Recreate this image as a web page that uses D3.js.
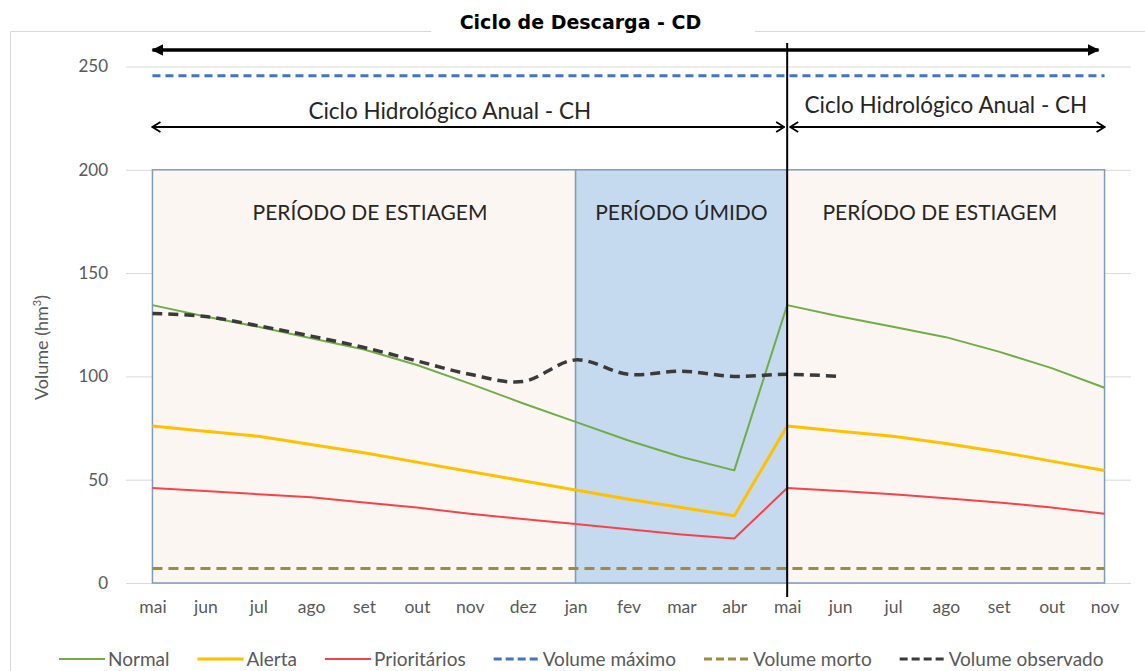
<!DOCTYPE html>
<html>
<head>
<meta charset="utf-8">
<script src="https://cdn.jsdelivr.net/npm/d3@7"></script>
<style>
    body { margin: 0; background: #fff; }
    svg text { font-family: Lato, "Open Sans", sans-serif; }
</style>
</head>
<body>
<div id="graph"></div>
<script>
/*
    Data
*/
var months = ["mai", "jun", "jul", "ago", "set", "out", "nov", "dez", "jan", "fev",
              "mar", "abr", "mai", "jun", "jul", "ago", "set", "out", "nov"]
var yTicks = [0, 50, 100, 150, 200, 250]

var normal       = [134.5, 129, 124, 118.5, 113, 105.5, 96.5, 87, 78, 69, 61, 54.5,
                    134.5, 129, 124, 119, 112, 104, 94.5]
var alerta       = [76, 73.5, 71, 67, 63, 58.5, 54, 49.5, 45, 40.5, 36.5, 32.5,
                    76, 73.5, 71, 67.5, 63.5, 59, 54.5]
var prioritarios = [46, 44.5, 43, 41.5, 39, 36.5, 33.5, 31, 28.5, 26, 23.5, 21.5,
                    46, 44.5, 43, 41, 39, 36.5, 33.5]
var volumeMaximo = [245.5, 245.5, 245.5, 245.5, 245.5, 245.5, 245.5, 245.5, 245.5, 245.5,
                    245.5, 245.5, 245.5, 245.5, 245.5, 245.5, 245.5, 245.5, 245.5]
var volumeMorto  = [7, 7, 7, 7, 7, 7, 7, 7, 7, 7, 7, 7, 7, 7, 7, 7, 7, 7, 7]
var volumeObservado = [130.5, 129, 124.5, 119.5, 114, 107.5, 101, 97.5, 108, 101,
                       102.5, 100, 101, 100]

// periods (index of month where they start / end)
var periodNames = ["PERÍODO DE ESTIAGEM", "PERÍODO ÚMIDO", "PERÍODO DE ESTIAGEM"]
var periodStart = [0, 8, 12]
var periodEnd   = [8, 12, 18]
var periodTop   = 200

var cdLabel = "Ciclo de Descarga - CD"
var chLabel = "Ciclo Hidrológico Anual - CH"
var chStart = [0, 12]
var chEnd   = [12, 18]

var series = [
    { name: "Normal",           values: normal,          color: "#70ad47", width: 2,   dash: null,   smooth: false },
    { name: "Alerta",           values: alerta,          color: "#ffc000", width: 3,   dash: null,   smooth: false },
    { name: "Prioritários",     values: prioritarios,    color: "#f8424a", width: 2,   dash: null,   smooth: false },
    { name: "Volume máximo",    values: volumeMaximo,    color: "#4472c4", width: 3,   dash: "8,5",  smooth: false },
    { name: "Volume morto",     values: volumeMorto,     color: "#a08a40", width: 3,   dash: "10,6", smooth: false },
    { name: "Volume observado", values: volumeObservado, color: "#3a3a3a", width: 3.5, dash: "10,6", smooth: true }
]

/*
    Size of the picture
*/
var W = 1145, H = 671
var plot = { left: 126, right: 1131, top: 66.5, bottom: 583 }

var svg = d3.select("#graph").append("svg")
    .attr("width", W)
    .attr("height", H)

var defs = svg.append("defs")
defs.append("marker")
    .attr("id", "head-solid")
    .attr("viewBox", "0 0 12 12")
    .attr("refX", 11).attr("refY", 6)
    .attr("markerWidth", 12).attr("markerHeight", 12)
    .attr("markerUnits", "userSpaceOnUse")
    .attr("orient", "auto-start-reverse")
    .append("path")
    .attr("d", "M0,0 L12,6 L0,12 Z")
    .attr("fill", "#000")
defs.append("marker")
    .attr("id", "head-open")
    .attr("viewBox", "0 0 10 12")
    .attr("refX", 9).attr("refY", 6)
    .attr("markerWidth", 10).attr("markerHeight", 12)
    .attr("markerUnits", "userSpaceOnUse")
    .attr("orient", "auto-start-reverse")
    .append("path")
    .attr("d", "M1,1 L9,6 L1,11")
    .attr("fill", "none")
    .attr("stroke", "#000")
    .attr("stroke-width", 1.8)

// chart border
svg.append("path")
    .attr("d", "M10.5," + H + " L10.5,31.5 L" + W + ",31.5")
    .attr("fill", "none")
    .attr("stroke", "#d9d9d9")

// Scales
var x = d3.scalePoint()
    .domain(d3.range(months.length))
    .range([plot.left, plot.right])
    .padding(0.5)
var y = d3.scaleLinear()
    .domain([0, 250])
    .range([plot.bottom, plot.top])

// grid + y axis
var yAxis = svg.append("g")
    .attr("transform", "translate(" + plot.left + ",0)")
    .call(d3.axisLeft(y).tickValues(yTicks).tickSize(-(plot.right - plot.left)).tickPadding(18))
yAxis.select(".domain").remove()
yAxis.selectAll("line").attr("stroke", "#d9d9d9")
yAxis.selectAll("text")
    .attr("fill", "#595959")
    .style("font-size", "17px")

// x axis
var xAxis = svg.append("g")
    .attr("transform", "translate(0," + plot.bottom + ")")
    .call(d3.axisBottom(x).tickFormat(function (i) { return months[i] }).tickSize(0).tickPadding(18))
xAxis.select(".domain").remove()
xAxis.selectAll("text")
    .attr("fill", "#595959")
    .style("font-size", "17.5px")

// y title
svg.append("text")
    .attr("transform", "translate(48," + y(114) + ") rotate(-90)")
    .attr("text-anchor", "middle")
    .attr("fill", "#595959")
    .style("font-size", "18px")
    .html("Volume (hm<tspan dy='-7' style='font-size:11px'>3</tspan><tspan dy='7'>)</tspan>")

/*
    Periods
*/
svg.selectAll("rect.period")
    .data(periodNames)
    .enter().append("rect")
    .attr("class", "period")
    .attr("x", function (d, i) { return x(periodStart[i]) })
    .attr("y", y(periodTop))
    .attr("width", function (d, i) { return x(periodEnd[i]) - x(periodStart[i]) })
    .attr("height", y(0) - y(periodTop))
    .attr("fill", function (d, i) { return i == 1 ? "#c5daee" : "#fbf6f2" })
    .attr("stroke", "#7f9cbc")
    .attr("stroke-width", 1.5)

svg.selectAll("text.period")
    .data(periodNames)
    .enter().append("text")
    .attr("class", "period")
    .attr("x", function (d, i) { return (x(periodStart[i]) + x(periodEnd[i])) / 2 + (i == 0 ? 6 : (i == 2 ? -6 : 0)) })
    .attr("y", 220)
    .attr("text-anchor", "middle")
    .attr("fill", "#262626")
    .style("font-size", "21px")
    .text(function (d) { return d })

/*
    Lines
*/
series.forEach(function (s) {
    var line = d3.line()
        .x(function (d, i) { return x(i) })
        .y(function (d) { return y(d) })
        .curve(s.smooth ? d3.curveCatmullRom.alpha(0.5) : d3.curveLinear)
    svg.append("path")
        .attr("d", line(s.values))
        .attr("fill", "none")
        .attr("stroke", s.color)
        .attr("stroke-width", s.width)
        .attr("stroke-dasharray", s.dash)
        .attr("stroke-linejoin", "round")
})

/*
    Cycle arrows and separator
*/
svg.append("line")
    .attr("x1", x(12)).attr("x2", x(12))
    .attr("y1", 43).attr("y2", 597)
    .attr("stroke", "#000")
    .attr("stroke-width", 2)

svg.append("line")
    .attr("x1", x(0)).attr("x2", x(18) - 6)
    .attr("y1", 50).attr("y2", 50)
    .attr("stroke", "#000")
    .attr("stroke-width", 3.5)
    .attr("marker-start", "url(#head-solid)")
    .attr("marker-end", "url(#head-solid)")

svg.selectAll("line.ch")
    .data(chStart)
    .enter().append("line")
    .attr("class", "ch")
    .attr("x1", function (d, i) { return x(d) + (i == 1 ? 3 : 0) })
    .attr("x2", function (d, i) { return x(chEnd[i]) - (i == 0 ? 3 : 0) })
    .attr("y1", 127).attr("y2", 127)
    .attr("stroke", "#000")
    .attr("stroke-width", 1.8)
    .attr("marker-start", "url(#head-open)")
    .attr("marker-end", "url(#head-open)")

svg.selectAll("text.ch")
    .data(chStart)
    .enter().append("text")
    .attr("class", "ch")
    .attr("x", function (d, i) { return (x(d) + x(chEnd[i])) / 2 - (i == 0 ? 20 : 0) })
    .attr("y", function (d, i) { return i == 0 ? 119 : 113 })
    .attr("text-anchor", "middle")
    .attr("fill", "#262626")
    .style("font-size", "22.5px")
    .text(chLabel)

// title with white box over the border
svg.append("rect")
    .attr("x", 431).attr("y", 8)
    .attr("width", 324).attr("height", 30)
    .attr("fill", "#fff")
svg.append("text")
    .attr("x", (x(0) + x(18)) / 2 - 48)
    .attr("y", 29)
    .attr("text-anchor", "middle")
    .attr("fill", "#000")
    .style("font-family", "'DejaVu Sans', sans-serif")
    .style("font-weight", "bold")
    .style("font-size", "19px")
    .text(cdLabel)

/*
    Legend
*/
var legend = svg.append("g").attr("transform", "translate(59,659)")
var lx = 0
series.forEach(function (s) {
    var g = legend.append("g").attr("transform", "translate(" + lx + ",0)")
    g.append("line")
        .attr("x1", 0).attr("x2", 46)
        .attr("stroke", s.color)
        .attr("stroke-width", s.width == 2 ? 2 : 3)
        .attr("stroke-dasharray", s.dash ? "8,4" : null)
    var t = g.append("text")
        .attr("x", 49).attr("y", 6.5)
        .attr("fill", "#595959")
        .style("font-size", "19px")
        .text(s.name)
    lx += 49 + t.node().getComputedTextLength() + 28
})
</script>
</body>
</html>
